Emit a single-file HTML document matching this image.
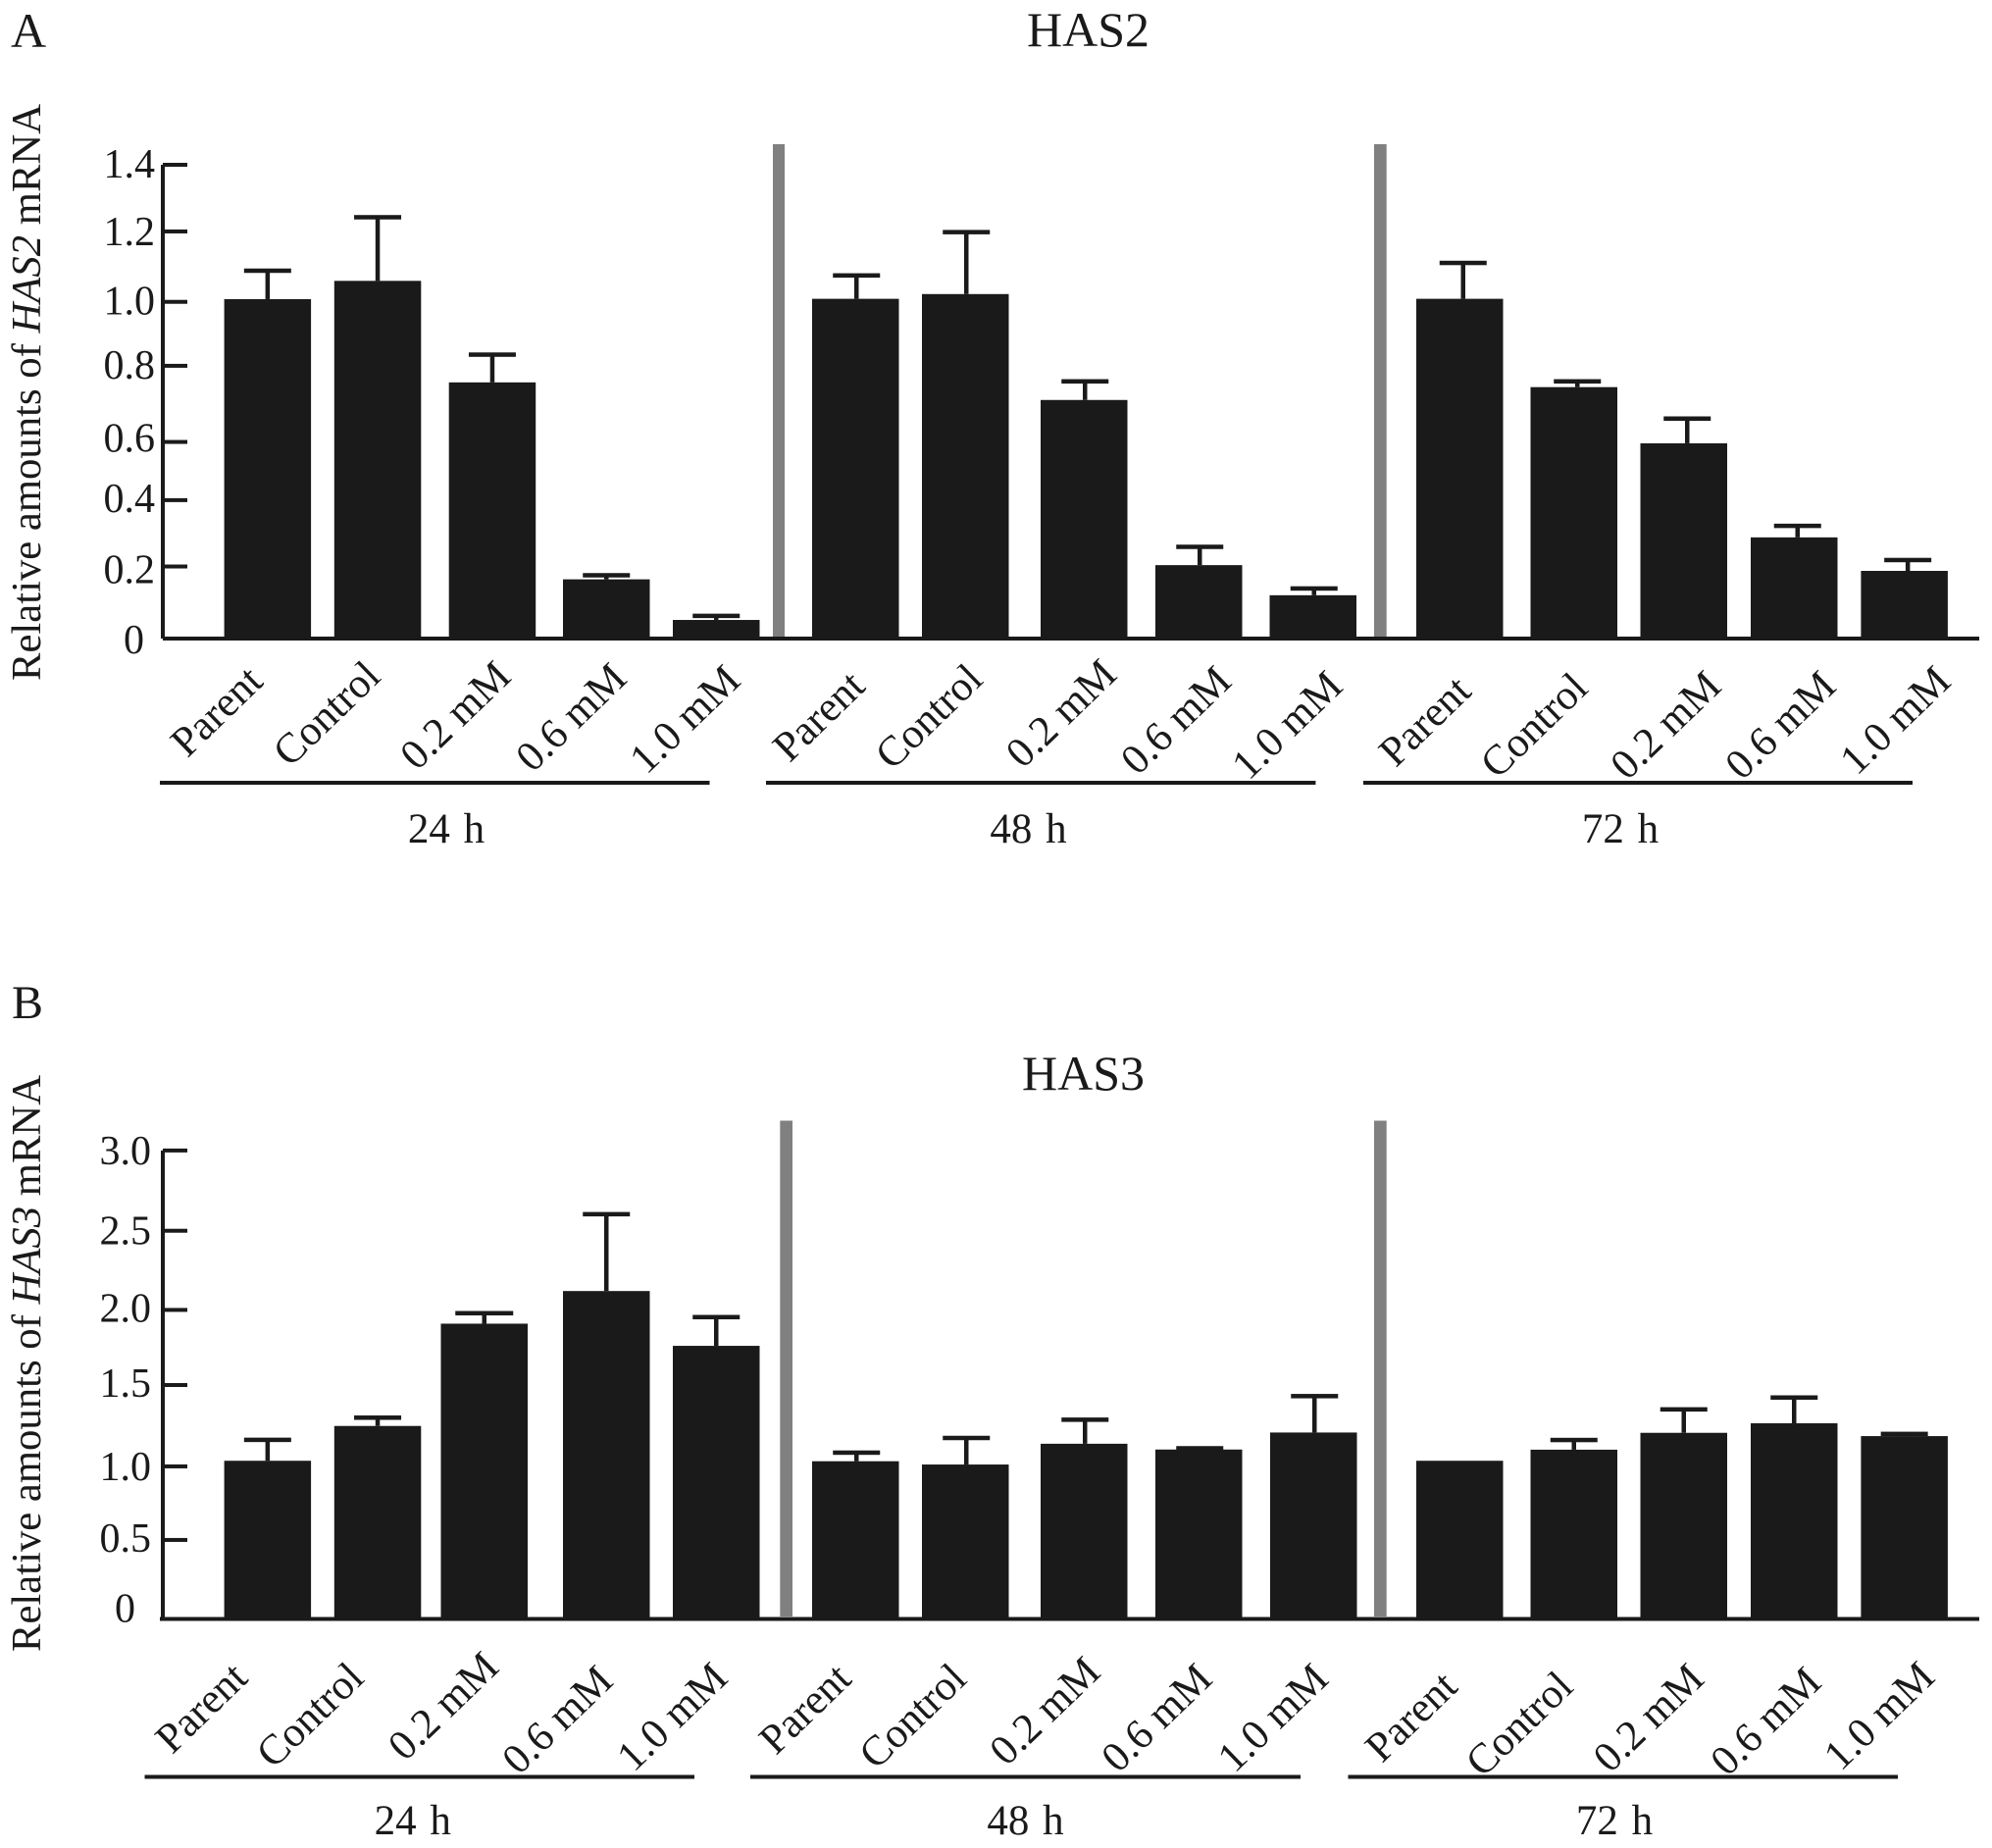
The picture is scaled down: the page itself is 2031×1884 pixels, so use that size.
<!DOCTYPE html>
<html lang="en">
<head>
<meta charset="utf-8">
<title>HAS2 and HAS3 mRNA relative amounts</title>
<style>
  html, body { margin: 0; padding: 0; background: #fff; }
  svg { display: block; }
  text { font-family: "Liberation Serif", serif; fill: #1a1a1a; }
</style>
</head>
<body>
<svg id="figure" xmlns="http://www.w3.org/2000/svg" width="2031" height="1884" viewBox="0 0 2031 1884">
  <rect x="0" y="0" width="2031" height="1884" fill="#ffffff"/>
  <text x="11" y="48" font-size="50">A</text>
  <text x="1047" y="47" font-size="50">HAS2</text>
  <text x="41" y="694" font-size="42.7" transform="rotate(-90 41 694)">Relative amounts of <tspan font-style="italic">HAS2</tspan> mRNA</text>
  <text x="12" y="1038" font-size="48">B</text>
  <text x="1042" y="1111" font-size="50">HAS3</text>
  <text x="41" y="1684" font-size="42.7" transform="rotate(-90 41 1684)">Relative amounts of <tspan font-style="italic">HAS3</tspan> mRNA</text>
</svg>
<script>
const categories = ['Parent', 'Control', '0.2 mM', '0.6 mM', '1.0 mM'];
const timeGroups = ['24 h', '48 h', '72 h'];

const has2Mean24h = [1.003, 1.057, 0.757, 0.175, 0.055];
const has2Mean48h = [1.004, 1.018, 0.705, 0.217, 0.128];
const has2Mean72h = [1.004, 0.743, 0.577, 0.299, 0.200];
const has2Err24h = [0.084, 0.188, 0.082, 0.012, 0.012];
const has2Err48h = [0.069, 0.183, 0.055, 0.054, 0.020];
const has2Err72h = [0.106, 0.017, 0.073, 0.034, 0.032];
const has2TickValues = [0, 0.213, 0.409, 0.581, 0.806, 0.995, 1.203, 1.4];
const has2TickLabels = ['0', '0.2', '0.4', '0.6', '0.8', '1.0', '1.2', '1.4'];

const has3Mean24h = [1.013, 1.236, 1.891, 2.100, 1.749];
const has3Mean48h = [1.010, 0.989, 1.122, 1.085, 1.194];
const has3Mean72h = [1.013, 1.084, 1.192, 1.253, 1.171];
const has3Err24h = [0.134, 0.053, 0.067, 0.492, 0.184];
const has3Err48h = [0.055, 0.170, 0.154, 0.008, 0.233];
const has3Err72h = [0, 0.062, 0.150, 0.165, 0.014];
const has3TickValues = [0, 0.506, 0.977, 1.498, 1.979, 2.486, 3.0];
const has3TickLabels = ['0', '0.5', '1.0', '1.5', '2.0', '2.5', '3.0'];

const svg = document.getElementById('figure');
const NS = 'http://www.w3.org/2000/svg';
const INK = '#1a1a1a';
const GREY = '#808080';

function make(tag, attrs, text) {
  const node = document.createElementNS(NS, tag);
  for (const key in attrs) node.setAttribute(key, attrs[key]);
  if (text !== undefined) node.textContent = text;
  svg.appendChild(node);
  return node;
}

function drawPanel(p) {
  const y = v => p.baseY - p.pxPerUnit * v;
  const barW = 88.5;
  const xLeft = (g, c) => p.barLefts[g][c];

  // group separators
  p.separators.forEach((sx, i) => {
    const el = make('rect', { x: sx, y: p.sepTop, width: p.sepW[i], height: p.sepBottom - p.sepTop, fill: GREY });
    
    
  });

  // y axis line and x baseline
  const yAxis = make('rect', { x: p.axisX - 2, y: y(p.ticks[p.ticks.length - 1]), width: 4, height: p.baseY - y(p.ticks[p.ticks.length - 1]), fill: INK });
  
  
  const xAxis = make('rect', { x: p.baseStart, y: p.baseY - 2, width: 2018 - p.baseStart, height: 4, fill: INK });
  
  

  // ticks and tick labels
  p.ticks.forEach((v, i) => {
    const tick = make('rect', { x: p.axisX, y: y(v) - 2, width: 25, height: 4, fill: INK });
    
    
    if (i === 0) tick.setAttribute('width', 0);
    const zero = p.tickLabels[i] === '0';
    const label = make('text', {
      x: zero ? p.zeroRight : p.labelRight,
      y: y(v) + p.labelDy(i),
      'font-size': 42,
      'text-anchor': 'end'
    }, p.tickLabels[i]);
    
    
  });

  // bars and error bars
  p.means.forEach((series, g) => {
    series.forEach((v, c) => {
      const bx = xLeft(g, c);
      const top = y(v);
      const bar = make('rect', { x: bx, y: top, width: barW, height: p.baseY + 2 - top, fill: INK });
      
      
      const err = p.errs[g][c];
      if (err > 0) {
        const cx = bx + barW / 2 + p.capOffset[g];
        const capY = y(v + err);
        const capW = p.capWidth(g, c);
        const stem = make('rect', { x: cx - 2.25, y: capY, width: 4.5, height: top - capY, fill: INK });
        
        
        const cap = make('rect', { x: cx - capW / 2, y: capY - 2.25, width: capW, height: 4.5, fill: INK });
        
        
      }
    });
  });

  // rotated category labels
  timeGroups.forEach((name, g) => {
    categories.forEach((cat, c) => {
      const a = p.labelEnds[g][c];
      const ax = a[0] + 2;
      const ay = a[1];
      const label = make('text', {
        x: ax, y: ay, 'font-size': 43, 'text-anchor': 'end',
        transform: 'rotate(-44 ' + ax + ' ' + ay + ')'
      }, cat);
      
      
    });
    const span = p.groupSpans[g];
    const line = make('rect', { x: span[0], y: p.groupLineY - 2, width: span[1] - span[0], height: 4, fill: INK });
    
    
    const gl = make('text', { x: p.groupCenters[g], y: p.groupLabelY, 'font-size': 43, 'text-anchor': 'middle', 'word-spacing': 3 }, name);
    
    
  });
}

drawPanel({
  id: 'has2',
  baseY: 651, pxPerUnit: 345, axisX: 166, baseStart: 166,
  means: [has2Mean24h, has2Mean48h, has2Mean72h],
  errs: [has2Err24h, has2Err48h, has2Err72h],
  ticks: has2TickValues, tickLabels: has2TickLabels,
  labelRight: 158, zeroRight: 147,
  labelDy: i => [15, 17, 12, 10, 13, 13, 14, 13][i],
  barLefts: [
    [228.6, 340.8, 457.7, 574, 686],
    [828, 940, 1061, 1178, 1294.5],
    [1444, 1560.5, 1672.5, 1785, 1897.4]
  ],
  capOffset: [0, 1, 3.5],
  capWidth: () => 48,
  separators: [788, 1401], sepW: [12, 12.7], sepTop: 147, sepBottom: 652,
  labelEnds: [
    [[268, 697], [388, 692], [521, 692], [639, 694], [755, 696]],
    [[882, 702], [1002, 695], [1138.6, 690], [1255.7, 697], [1369, 702]],
    [[1500, 707], [1619, 704], [1755, 702], [1872, 702], [1989, 697]]
  ],
  groupSpans: [[163, 723.5], [781, 1341.4], [1390, 1950]],
  groupLineY: 798,
  groupCenters: [455, 1048.5, 1652],
  groupLabelY: 859
});

drawPanel({
  id: 'has3',
  baseY: 1650.5, pxPerUnit: 159.2, axisX: 166, baseStart: 163,
  means: [has3Mean24h, has3Mean48h, has3Mean72h],
  errs: [has3Err24h, has3Err48h, has3Err72h],
  ticks: has3TickValues, tickLabels: has3TickLabels,
  labelRight: 154, zeroRight: 138,
  labelDy: i => [3, 12, 14, 12, 12, 14, 14][i],
  barLefts: [
    [228.6, 340.8, 449.5, 574, 686],
    [828, 940, 1061, 1178, 1295],
    [1444, 1560.5, 1672.5, 1785, 1897.4]
  ],
  capOffset: [0, 1, 0],
  capWidth: (g, c) => (g === 0 && c === 2 ? 59 : 48),
  separators: [795.3, 1401], sepW: [12.7, 12.7], sepTop: 1142.5, sepBottom: 1648,
  labelEnds: [
    [[252.5, 1713], [371, 1713], [508.7, 1702], [625, 1716], [742, 1713]],
    [[868, 1714], [985.5, 1714], [1122, 1707], [1236, 1714], [1354.5, 1714]],
    [[1486, 1722], [1604, 1722], [1737.5, 1714], [1857, 1717.6], [1972.6, 1712]]
  ],
  groupSpans: [[147.5, 708], [765, 1326], [1374.5, 1935]],
  groupLineY: 1811.5,
  groupCenters: [420.8, 1045.5, 1646],
  groupLabelY: 1870
});
</script>
</body>
</html>
